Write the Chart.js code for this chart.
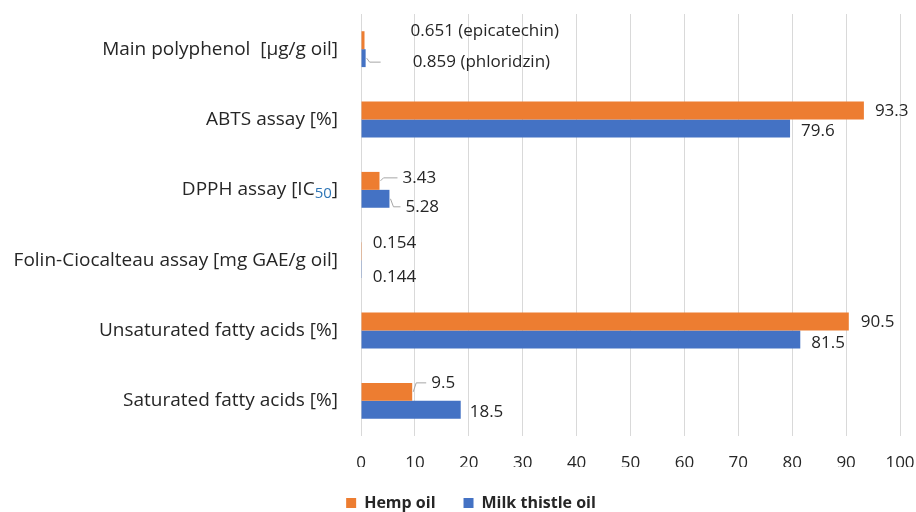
<!DOCTYPE html>
<html>
<head>
<meta charset="utf-8">
<script src="https://cdn.jsdelivr.net/npm/chart.js@4/dist/chart.umd.min.js"></script>
<style>
  html, body { margin: 0; padding: 0; background: #ffffff; }
  #wrap { width: 916px; height: 512px; position: relative; }
</style>
</head>
<body>
<div id="wrap"><canvas id="c" width="916" height="512"></canvas></div>
<script>
// Categories (top to bottom)
const categories = [
  'Main polyphenol  [µg/g oil]',
  'ABTS assay [%]',
  'DPPH assay [IC50]',
  'Folin-Ciocalteau assay [mg GAE/g oil]',
  'Unsaturated fatty acids [%]',
  'Saturated fatty acids [%]'
];

// Series values
const hempOil = [0.651, 93.3, 3.43, 0.154, 90.5, 9.5];
const milkThistleOil = [0.859, 79.6, 5.28, 0.144, 81.5, 18.5];

// Compound named beside the main polyphenol value
const hempCompound = 'epicatechin';
const milkCompound = 'phloridzin';

// X axis tick values
const xTicks = [0, 10, 20, 30, 40, 50, 60, 70, 80, 90, 100];

const ORANGE = '#ED7D31';
const BLUE = '#4472C4';
const TEXT = '#262626';
const FONT = '"Open Sans", Lato, sans-serif';
const FS = 17;       // ticks, value labels
const CAT_FS = 19;   // category labels
const LEG_FS = 16;   // legend

// Label placement relative to the end/centre of each bar
const hempLabelPos = [
  { dx: 46, dy: -9 },
  { dx: 11, dy: 1 },
  { dx: 23, dy: -3, leader: true },
  { dx: 11, dy: -8 },
  { dx: 12, dy: 1 },
  { dx: 19, dy: -9, leader: true }
];
const milkLabelPos = [
  { dx: 47, dy: 4, leader: true, leaderEnd: 15 },
  { dx: 11, dy: 3 },
  { dx: 16, dy: 8, leader: true },
  { dx: 11, dy: 8 },
  { dx: 11, dy: 4 },
  { dx: 9, dy: 2 }
];

function labelText(ds, i, v) {
  if (i === 0) return v + ' (' + (ds === 0 ? hempCompound : milkCompound) + ')';
  return String(v);
}

// Value labels with short leader lines, drawn after the bars
const valueLabels = {
  id: 'valueLabels',
  afterDatasetsDraw(chart) {
    const ctx = chart.ctx;
    ctx.save();
    ctx.font = FS + 'px ' + FONT;
    ctx.textBaseline = 'middle';
    ctx.textAlign = 'left';
    chart.data.datasets.forEach((dataset, d) => {
      const meta = chart.getDatasetMeta(d);
      const posList = d === 0 ? hempLabelPos : milkLabelPos;
      meta.data.forEach((bar, i) => {
        const p = posList[i];
        const x0 = bar.x, y0 = bar.y;
        const tx = x0 + p.dx, ty = y0 + p.dy;
        if (p.leader) {
          ctx.strokeStyle = '#a6a6a6';
          ctx.lineWidth = 1;
          ctx.beginPath();
          const end = p.leaderEnd !== undefined ? x0 + p.leaderEnd : tx - 5;
          ctx.moveTo(x0 + 1, y0);
          ctx.lineTo(x0 + 4, ty);
          ctx.lineTo(end, ty);
          ctx.stroke();
        }
        ctx.fillStyle = TEXT;
        ctx.fillText(labelText(d, i, dataset.data[i]), tx, ty);
      });
    });
    ctx.restore();
  }
};

// Category labels on the left (with subscript for IC50)
const categoryLabels = {
  id: 'categoryLabels',
  afterDraw(chart) {
    const ctx = chart.ctx;
    const yScale = chart.scales.y;
    const right = chart.chartArea.left - 23;
    ctx.save();
    ctx.textBaseline = 'middle';
    ctx.textAlign = 'right';
    categories.forEach((c, i) => {
      const y = yScale.getPixelForValue(i);
      ctx.font = CAT_FS + 'px ' + FONT;
      ctx.fillStyle = TEXT;
      if (c.indexOf('IC50') >= 0) {
        let x = right;
        ctx.fillText(']', x, y);
        x -= ctx.measureText(']').width;
        ctx.font = '15px ' + FONT;
        ctx.fillStyle = '#2E75B6';
        ctx.fillText('50', x, y + 4);
        x -= ctx.measureText('50').width;
        ctx.font = CAT_FS + 'px ' + FONT;
        ctx.fillStyle = TEXT;
        ctx.fillText(c.replace('50]', ''), x, y);
      } else {
        ctx.fillText(c, right, y);
      }
    });
    ctx.restore();
  }
};

new Chart(document.getElementById('c'), {
  type: 'bar',
  data: {
    labels: categories,
    datasets: [
      { label: 'Hemp oil', data: hempOil, backgroundColor: ORANGE },
      { label: 'Milk thistle oil', data: milkThistleOil, backgroundColor: BLUE }
    ]
  },
  options: {
    indexAxis: 'y',
    responsive: false,
    animation: false,
    devicePixelRatio: 1,
    datasets: { bar: { categoryPercentage: 0.51, barPercentage: 1.0 } },
    layout: { padding: { left: 26, right: 0, top: 14, bottom: -9 } },
    scales: {
      x: {
        min: 0, max: 100,
        afterBuildTicks(scale) { scale.ticks = xTicks.map(v => ({ value: v })); },
        afterFit(scale) { scale.height = 31; scale.paddingRight = 16; scale.paddingLeft = 0; },
        grid: { color: '#d9d9d9', lineWidth: 1, drawTicks: false },
        border: { display: false },
        ticks: { color: TEXT, font: { family: FONT, size: FS }, padding: 17, maxRotation: 0 }
      },
      y: {
        afterFit(scale) { scale.width = 335; },
        grid: { display: false },
        border: { display: false },
        ticks: { display: false }
      }
    },
    plugins: {
      legend: {
        position: 'bottom',
        labels: {
          color: TEXT,
          font: { family: FONT, size: LEG_FS, weight: 'bold' },
          boxWidth: 10, boxHeight: 10, padding: 28
        }
      },
      tooltip: { enabled: false }
    }
  },
  plugins: [valueLabels, categoryLabels]
});
</script>
</body>
</html>
